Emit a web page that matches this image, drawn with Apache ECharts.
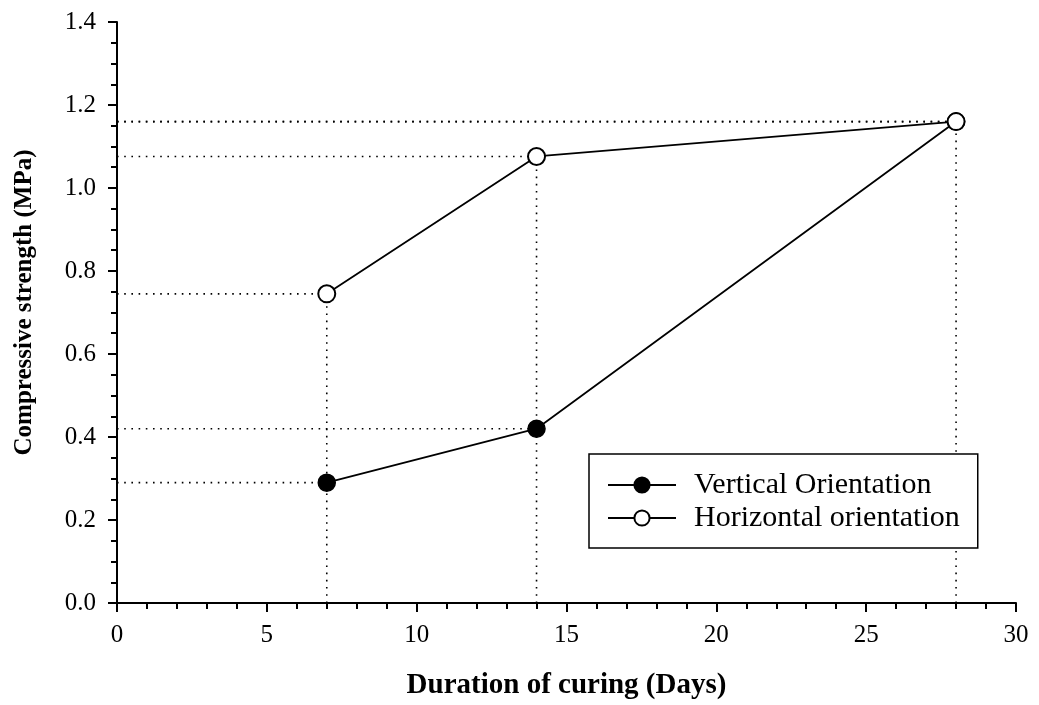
<!DOCTYPE html>
<html>
<head>
<meta charset="utf-8">
<script src="https://cdn.jsdelivr.net/npm/echarts@6/dist/echarts.min.js"></script>
<style>
  html, body { margin: 0; padding: 0; background: #fff; }
  #chart { width: 1039px; height: 705px; }
</style>
</head>
<body>
<div id="chart"></div>
<script>
var days = [7, 14, 28];
var vertical = [0.29, 0.42, 1.16];
var horizontal = [0.745, 1.076, 1.16];

var FONT = '"Liberation Serif", "Times New Roman", serif';

var chart = echarts.init(document.getElementById('chart'));

// dotted guide lines from each point to the axes
var guides = [];
function dotted(points) {
  guides.push({
    type: 'line',
    data: points,
    symbol: 'none',
    silent: true,
    z: 1,
    lineStyle: { color: '#000', width: 1.6, type: [1.6, 5.6] }
  });
}
days.forEach(function (d, i) {
  dotted([[0, vertical[i]], [d, vertical[i]]]);
  dotted([[0, horizontal[i]], [d, horizontal[i]]]);
  dotted([[d, 0], [d, Math.max(vertical[i], horizontal[i])]]);
});

function pairs(ys) {
  return days.map(function (d, i) { return [d, ys[i]]; });
}

var option = {
  animation: false,
  backgroundColor: '#fff',
  grid: { left: 117, right: 23, top: 22, bottom: 99 },
  legend: {
    data: ['Vertical Orientation', 'Horizontal orientation'],
    orient: 'vertical',
    left: 589,
    top: 454,
    padding: [16, 18, 15, 18],
    itemGap: 3,
    itemWidth: 68,
    itemHeight: 19,
    borderColor: '#000',
    borderWidth: 1.5,
    backgroundColor: '#fff',
    textStyle: {
      fontFamily: FONT, fontSize: 30, lineHeight: 30, color: '#000',
      padding: [0, 0, 0, 13]
    }
  },
  xAxis: {
    type: 'value',
    min: 0, max: 30, interval: 5,
    name: 'Duration of curing (Days)',
    nameLocation: 'middle',
    nameGap: 68,
    nameTextStyle: { fontFamily: FONT, fontSize: 29, fontWeight: 'bold', color: '#000' },
    axisLine: { show: true, lineStyle: { color: '#000', width: 2 } },
    axisTick: { show: true, length: 9, lineStyle: { color: '#000', width: 2 } },
    minorTick: { show: true, splitNumber: 5, length: 6, lineStyle: { color: '#000', width: 2 } },
    axisLabel: { margin: 20, fontFamily: FONT, fontSize: 25, color: '#000' },
    splitLine: { show: false }
  },
  yAxis: {
    type: 'value',
    min: 0, max: 1.4, interval: 0.2,
    name: 'Compressive strength (MPa)',
    nameLocation: 'middle',
    nameGap: 80,
    nameTextStyle: {
      fontFamily: FONT, fontSize: 25, fontWeight: 'bold', color: '#000',
      padding: [0, 0, 0, 20]
    },
    axisLine: { show: true, lineStyle: { color: '#000', width: 2 } },
    axisTick: { show: true, length: 9, lineStyle: { color: '#000', width: 2 } },
    minorTick: { show: true, splitNumber: 4, length: 6, lineStyle: { color: '#000', width: 2 } },
    axisLabel: {
      margin: 21, fontFamily: FONT, fontSize: 25, color: '#000',
      formatter: function (v) { return v.toFixed(1); }
    },
    splitLine: { show: false }
  },
  series: guides.concat([
    {
      name: 'Vertical Orientation',
      type: 'line',
      data: pairs(vertical),
      symbol: 'circle',
      symbolSize: 17,
      z: 3,
      lineStyle: { color: '#000', width: 1.8 },
      itemStyle: { color: '#000', borderColor: '#000', borderWidth: 1.5 }
    },
    {
      name: 'Horizontal orientation',
      type: 'line',
      data: pairs(horizontal),
      symbol: 'circle',
      symbolSize: 17,
      z: 4,
      lineStyle: { color: '#000', width: 1.8 },
      itemStyle: { color: '#fff', borderColor: '#000', borderWidth: 2 }
    }
  ])
};

chart.setOption(option);
</script>
</body>
</html>
